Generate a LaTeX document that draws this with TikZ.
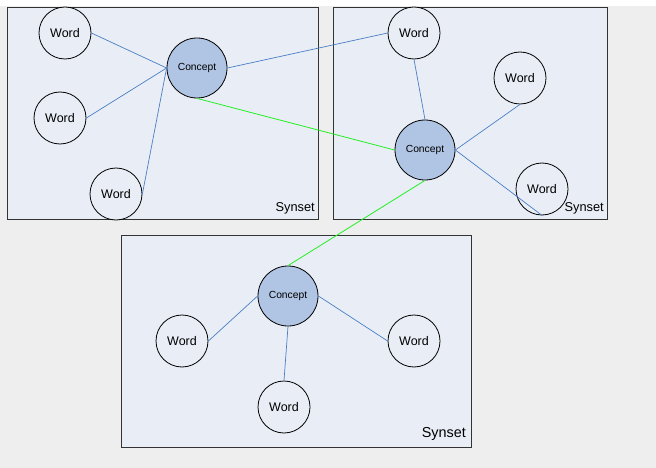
\documentclass[tikz,border=0pt]{standalone}
\usepackage{fontspec}
\setmainfont{Liberation Sans}
\definecolor{bggray}{HTML}{EEEEEE}
\definecolor{boxfill}{HTML}{E9EEF6}
\definecolor{boxline}{HTML}{333333}
\definecolor{conceptfill}{HTML}{B0C4E3}
\definecolor{linkblue}{HTML}{4A7EC4}
\definecolor{linkgreen}{HTML}{22EE22}
\tikzset{
  synbox/.style={draw=boxline, fill=boxfill, line width=0.9pt},
  word/.style={circle, draw=black, fill=boxfill, line width=0.8pt, minimum size=52pt, inner sep=0pt, font=\fontsize{12.5}{14}\selectfont},
  concept/.style={circle, draw=black, fill=conceptfill, line width=0.8pt, minimum size=60pt, inner sep=0pt, font=\fontsize{10.3}{12}\selectfont},
  blueline/.style={draw=linkblue, line width=0.7pt},
  greenline/.style={draw=linkgreen, line width=0.8pt},
  synlabel/.style={anchor=east, inner sep=0pt, font=\fontsize{12.8}{14}\selectfont},
}
\begin{document}
\begin{tikzpicture}[x=1pt, y=-1pt]
\useasboundingbox (0,0) rectangle (656,468);
\fill[white] (0,0) rectangle (656,468);
\fill[bggray] (0,6) rectangle (656,468);
% boxes
\draw[synbox] (7,7) rectangle (318,219);
\draw[synbox] (333,7) rectangle (607,219);
\draw[synbox] (121,235) rectangle (471,447);
% nodes box 1
\node[word] (w1) at (65,33) {Word};
\node[word] (w2) at (60,118) {Word};
\node[word] (w3) at (116,194) {Word};
\node[concept] (c1) at (197,68) {Concept};
% nodes box 2
\node[word] (w4) at (414,33) {Word};
\node[word] (w5) at (520,78) {Word};
\node[word] (w6) at (542,189) {Word};
\node[concept] (c2) at (425,150) {Concept};
% nodes box 3
\node[concept] (c3) at (288,296) {Concept};
\node[word] (w7) at (182,341) {Word};
\node[word] (w8) at (284,407) {Word};
\node[word] (w9) at (414,341) {Word};
% labels
\node[synlabel] (s1) at (315,208) {Synset};
\node[synlabel] (s2) at (604,208) {Synset};
\node[synlabel, font=\fontsize{14.4}{16}\selectfont] (s3) at (466,434) {Synset};
% links
\draw[blueline] (w1.east) -- (c1.west);
\draw[blueline] (w2.east) -- (c1.west);
\draw[blueline] (w3.east) -- (c1.west);
\draw[blueline] (c1.east) -- (w4.west);
\draw[blueline] (w4.south) -- (c2.north);
\draw[blueline] (c2.east) -- (w5.south);
\draw[blueline] (c2.east) -- (w6.south);
\draw[blueline] (w7.east) -- (c3.west);
\draw[blueline] (w8.north) -- (c3.south);
\draw[blueline] (c3.east) -- (w9.west);
\draw[greenline] (c1.south) -- (c2.west);
\draw[greenline] (c2.south) -- (c3.north);
\end{tikzpicture}
\end{document}
